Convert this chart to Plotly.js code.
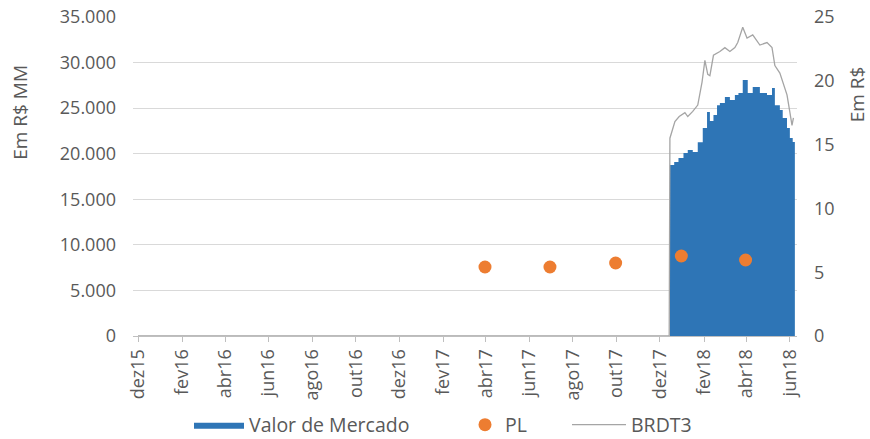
<!DOCTYPE html>
<html>
<head>
<meta charset="utf-8">
<script src="https://cdn.plot.ly/plotly-3.0.1.min.js"></script>
<style>
  html, body { margin: 0; padding: 0; background: #fff; }
  #chart { width: 870px; height: 439px; }
</style>
</head>
<body>
<div id="chart"></div>
<script>
// Valor de Mercado (R$ MM)
var mktDates = [
  "2017-12-15", "2017-12-21", "2017-12-27", "2018-01-03", "2018-01-09", "2018-01-16",
  "2018-01-23", "2018-01-30", "2018-02-05", "2018-02-09", "2018-02-14", "2018-02-19",
  "2018-02-23", "2018-03-02", "2018-03-09", "2018-03-16", "2018-03-21", "2018-03-27",
  "2018-04-03", "2018-04-10", "2018-04-20", "2018-04-30", "2018-05-07", "2018-05-11",
  "2018-05-18", "2018-05-22", "2018-05-28", "2018-06-01", "2018-06-05", "2018-06-08"
];
var mktValues = [
  18760, 19100, 19530, 20080, 20400, 20190,
  21270, 22820, 24580, 23600, 24250, 25330,
  25560, 26220, 25900, 26440, 26660, 28090,
  26660, 27320, 26660, 26440, 27210, 25330,
  24800, 23920, 22820, 21720, 21290, 21290
];

// PL (R$ MM), quarterly
var plDates = ["2017-03-31", "2017-06-30", "2017-09-30", "2017-12-31", "2018-03-31"];
var plValues = [7570, 7570, 8010, 8780, 8340];

// BRDT3 price (R$)
var pxDates = [
  "2015-12-01", "2017-12-14", "2017-12-15", "2017-12-18", "2017-12-22", "2017-12-28",
  "2018-01-05", "2018-01-09", "2018-01-16", "2018-01-23", "2018-01-29", "2018-02-02",
  "2018-02-06", "2018-02-09", "2018-02-14", "2018-02-23", "2018-03-02", "2018-03-09",
  "2018-03-16", "2018-03-20", "2018-03-27", "2018-04-02", "2018-04-10", "2018-04-20",
  "2018-04-30", "2018-05-07", "2018-05-11", "2018-05-18", "2018-05-22", "2018-05-28",
  "2018-06-01", "2018-06-04", "2018-06-06"
];
var pxValues = [
  0, 0, 15.5, 16.0, 16.8, 17.2,
  17.5, 17.2, 17.6, 18.1, 19.9, 21.6,
  20.5, 20.4, 22.0, 22.3, 22.6, 22.3,
  22.6, 23.0, 24.2, 23.35, 23.6, 22.8,
  23.0, 22.6, 21.2, 20.6, 19.9, 18.9,
  17.55, 16.5, 17.1
];

var tickDates = [
  "2015-12-01", "2016-02-01", "2016-04-01", "2016-06-01", "2016-08-01", "2016-10-01",
  "2016-12-01", "2017-02-01", "2017-04-01", "2017-06-01", "2017-08-01", "2017-10-01",
  "2017-12-01", "2018-02-01", "2018-04-01", "2018-06-01"
];
var tickLabels = [
  "dez15", "fev16", "abr16", "jun16", "ago16", "out16", "dez16", "fev17",
  "abr17", "jun17", "ago17", "out17", "dez17", "fev18", "abr18", "jun18"
];

var gray = "#595959";

var mkt = {
  x: mktDates,
  y: mktValues,
  name: "Valor de Mercado",
  type: "scatter",
  mode: "lines",
  line: { shape: "hv", width: 0, color: "#2e75b6" },
  fill: "tozeroy",
  fillcolor: "#2e75b6",
  legend: "legend"
};

var pl = {
  x: plDates,
  y: plValues,
  name: "PL",
  type: "scatter",
  mode: "markers",
  marker: { size: 13, color: "#ed7d31" },
  legend: "legend2"
};

var px = {
  x: pxDates,
  y: pxValues,
  name: "BRDT3",
  type: "scatter",
  mode: "lines",
  yaxis: "y2",
  line: { color: "#a5a5a5", width: 1.3 },
  legend: "legend3"
};

function legendAt(xPx, w) {
  return {
    orientation: "h",
    x: xPx / 870,
    xref: "container",
    xanchor: "left",
    y: 0.032,
    yref: "container",
    yanchor: "middle",
    itemwidth: w,
    font: { size: 19.5, color: gray }
  };
}

var layout = {
  width: 870,
  height: 439,
  margin: { l: 133, r: 73, t: 17, b: 103 },
  paper_bgcolor: "#fff",
  plot_bgcolor: "#fff",
  separators: ",.",
  font: { family: "Open Sans, sans-serif", size: 18, color: gray },
  showlegend: true,
  legend: legendAt(189, 50),
  legend2: legendAt(465, 30),
  legend3: legendAt(567, 54),
  xaxis: {
    type: "date",
    automargin: false,
    range: ["2015-11-24", "2018-06-11"],
    tickvals: tickDates,
    ticktext: tickLabels,
    tickangle: -90,
    ticks: "outside",
    ticklen: 5,
    tickcolor: "#bfbfbf",
    showgrid: false,
    showline: true,
    linecolor: "#bfbfbf",
    zeroline: false,
    tickfont: { size: 18, color: gray }
  },
  yaxis: {
    automargin: false,
    range: [0, 35000],
    tickvals: [0, 5000, 10000, 15000, 20000, 25000, 30000, 35000],
    tickformat: ",d",
    ticklabelstandoff: 16,
    showgrid: true,
    gridcolor: "#d9d9d9",
    zeroline: false,
    tickfont: { size: 18, color: gray }
  },
  yaxis2: {
    automargin: false,
    overlaying: "y",
    side: "right",
    range: [0, 25],
    tickvals: [0, 5, 10, 15, 20, 25],
    ticklabelstandoff: 16,
    showgrid: false,
    zeroline: false,
    tickfont: { size: 18, color: gray }
  },
  annotations: [
    {
      text: "Em R$ MM", textangle: -90, showarrow: false,
      xref: "paper", yref: "paper", x: -0.17, y: 0.7,
      xanchor: "center", yanchor: "middle",
      font: { size: 19, color: gray }
    },
    {
      text: "Em R$", textangle: -90, showarrow: false,
      xref: "paper", yref: "paper", x: 1.09, y: 0.757,
      xanchor: "center", yanchor: "middle",
      font: { size: 19, color: gray }
    }
  ]
};

Plotly.newPlot("chart", [mkt, pl, px], layout, { displayModeBar: false, staticPlot: true });
</script>
</body>
</html>
